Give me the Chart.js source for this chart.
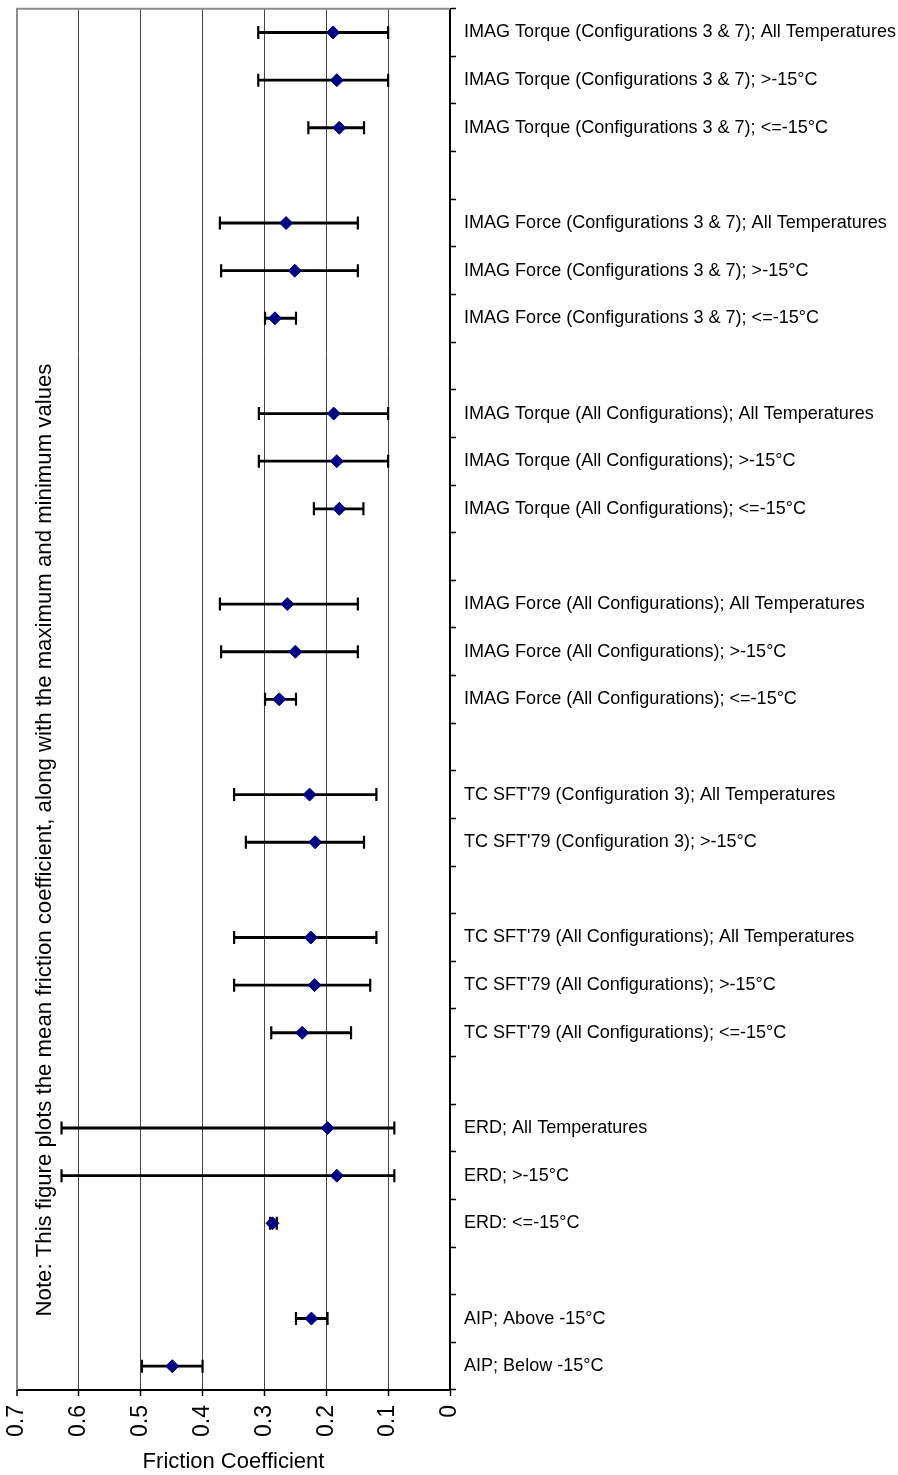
<!DOCTYPE html>
<html>
<head>
<meta charset="utf-8">
<script src="https://cdn.jsdelivr.net/npm/chart.js@4/dist/chart.umd.min.js"></script>
<style>
  html, body { margin: 0; padding: 0; background: #fff; }
  #wrap { width: 898px; height: 1475px; position: relative; }
</style>
</head>
<body>
<div id="wrap"><canvas id="c" width="898" height="1475"></canvas></div>
<script>
const categories = [
  "IMAG Torque (Configurations 3 & 7); All Temperatures",
  "IMAG Torque (Configurations 3 & 7); >-15°C",
  "IMAG Torque (Configurations 3 & 7); <=-15°C",
  "",
  "IMAG Force (Configurations 3 & 7); All Temperatures",
  "IMAG Force (Configurations 3 & 7); >-15°C",
  "IMAG Force (Configurations 3 & 7); <=-15°C",
  "",
  "IMAG Torque (All Configurations); All Temperatures",
  "IMAG Torque (All Configurations); >-15°C",
  "IMAG Torque (All Configurations); <=-15°C",
  "",
  "IMAG Force (All Configurations); All Temperatures",
  "IMAG Force (All Configurations); >-15°C",
  "IMAG Force (All Configurations); <=-15°C",
  "",
  "TC SFT'79 (Configuration 3); All Temperatures",
  "TC SFT'79 (Configuration 3); >-15°C",
  "",
  "TC SFT'79 (All Configurations); All Temperatures",
  "TC SFT'79 (All Configurations); >-15°C",
  "TC SFT'79 (All Configurations); <=-15°C",
  "",
  "ERD; All Temperatures",
  "ERD; >-15°C",
  "ERD: <=-15°C",
  "",
  "AIP; Above -15°C",
  "AIP; Below -15°C"
];
const meanValues = [0.189, 0.183, 0.179, null, 0.265, 0.251, 0.283, null, 0.188, 0.183, 0.179, null,
  0.263, 0.250, 0.276, null, 0.227, 0.218, null, 0.225, 0.219, 0.239, null, 0.198, 0.183, 0.287, null, 0.224, 0.449];
const minValues = [0.100, 0.100, 0.139, null, 0.149, 0.149, 0.249, null, 0.100, 0.100, 0.140, null,
  0.149, 0.149, 0.249, null, 0.119, 0.139, null, 0.119, 0.129, 0.160, null, 0.090, 0.090, 0.280, null, 0.198, 0.400];
const maxValues = [0.310, 0.310, 0.229, null, 0.372, 0.370, 0.299, null, 0.309, 0.309, 0.220, null,
  0.372, 0.370, 0.299, null, 0.349, 0.330, null, 0.349, 0.349, 0.289, null, 0.628, 0.628, 0.291, null, 0.249, 0.498];
const xTickValues = [0, 0.1, 0.2, 0.3, 0.4, 0.5, 0.6, 0.7];
const xTickLabels = ["0", "0.1", "0.2", "0.3", "0.4", "0.5", "0.6", "0.7"];
const noteText = "Note: This figure plots the mean friction coefficient, along with the maximum and minimum values";
const xTitle = "Friction Coefficient";

const rangeData = minValues.map((m, i) => (m === null ? null : [m, maxValues[i]]));

const FONT = "'Liberation Sans', Arial, sans-serif";

const framePlugin = {
  id: 'frame',
  beforeDatasetsDraw(chart) {
    const { ctx, chartArea: a } = chart;
    ctx.save();
    ctx.strokeStyle = '#8c8c8c';
    ctx.lineWidth = 2;
    ctx.beginPath();
    ctx.moveTo(a.left, a.bottom);
    ctx.lineTo(a.left, a.top);
    ctx.lineTo(a.right, a.top);
    ctx.stroke();
    // note text
    ctx.fillStyle = '#000';
    ctx.font = "22.2px " + FONT;
    ctx.textAlign = 'center';
    ctx.textBaseline = 'middle';
    ctx.translate(a.left + 28, 840);
    ctx.rotate(-Math.PI / 2);
    ctx.fillText(noteText, 0, 0);
    ctx.restore();
  }
};

new Chart(document.getElementById('c'), {
  type: 'bar',
  data: {
    labels: categories,
    datasets: [
      {
        type: 'line', label: 'Mean', indexAxis: 'y',
        data: meanValues, showLine: false,
        pointStyle: 'rectRot', pointRadius: 6.5,
        backgroundColor: '#000080', borderColor: '#000080', pointBorderWidth: 1,
        order: 0
      },
      {
        type: 'line', label: 'Min', indexAxis: 'y',
        data: minValues, showLine: false,
        pointStyle: 'line', pointRotation: 90, pointRadius: 6.5,
        borderColor: '#000', pointBorderWidth: 2.2, backgroundColor: '#000',
        order: 1
      },
      {
        type: 'line', label: 'Max', indexAxis: 'y',
        data: maxValues, showLine: false,
        pointStyle: 'line', pointRotation: 90, pointRadius: 6.5,
        borderColor: '#000', pointBorderWidth: 2.2, backgroundColor: '#000',
        order: 1
      },
      {
        type: 'bar', label: 'Range', indexAxis: 'y',
        data: rangeData, barThickness: 2.2,
        backgroundColor: '#000', borderWidth: 0,
        order: 2
      }
    ]
  },
  options: {
    indexAxis: 'y',
    responsive: false,
    animation: false,
    layout: { padding: { left: 17, top: 8, right: 0, bottom: 0 } },
    plugins: { legend: { display: false }, tooltip: { enabled: false } },
    scales: {
      x: {
        type: 'linear', position: 'bottom', reverse: true,
        min: 0, max: 0.7,
        afterBuildTicks(scale) { scale.ticks = xTickValues.map(v => ({ value: v })); },
        afterFit(scale) { scale.height = 85; scale.paddingLeft = 0; scale.paddingRight = 0; },
        ticks: {
          autoSkip: false, minRotation: 90, maxRotation: 90, padding: 9,
          color: '#000', font: { family: FONT, size: 23 },
          callback: (v) => { const i = xTickValues.findIndex(t => Math.abs(t - v) < 1e-9); return i >= 0 ? xTickLabels[i] : ''; }
        },
        grid: {
          color: (c) => (c.tick && Math.abs(c.tick.value - 0.7) < 1e-9 ? '#8c8c8c' : '#444'),
          lineWidth: (c) => (c.tick && Math.abs(c.tick.value - 0.7) < 1e-9 ? 2 : 1),
          tickColor: '#000', tickLength: 6, tickWidth: 1.5
        },
        border: { color: '#000', width: 2 },
        title: {
          display: true, text: xTitle, color: '#000',
          font: { family: FONT, size: 22 }, padding: { top: 0, bottom: 0 }
        }
      },
      y: {
        type: 'category', position: 'right', offset: true,
        afterFit(scale) { scale.width = 448; scale.paddingTop = 0; scale.paddingBottom = 0; },
        ticks: {
          autoSkip: false, padding: 8, color: '#000',
          font: { family: FONT, size: 18.05 }
        },
        grid: { offset: true, drawOnChartArea: false, tickLength: 6, color: '#000', tickColor: '#000', tickWidth: 1.5 },
        border: { color: '#000', width: 2 }
      }
    }
  },
  plugins: [framePlugin]
});
</script>
</body>
</html>
